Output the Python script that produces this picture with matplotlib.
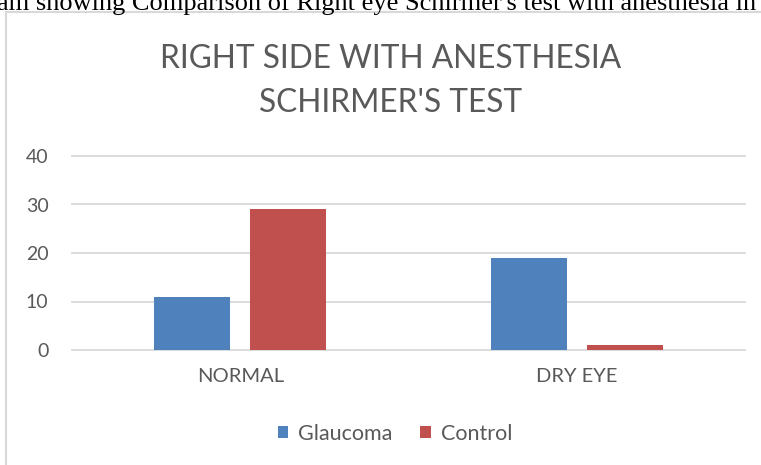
import matplotlib.pyplot as plt
import numpy as np
from matplotlib.patches import Rectangle

categories = ['NORMAL', 'DRY EYE']
glaucoma = [11, 19]
control = [29, 1]
yticks = [0, 10, 20, 30, 40]

blue = '#4F81BD'
red = '#C0504D'
grey = '#595959'
W, H = 761, 465

plt.rcParams['font.family'] = ['Lato', 'DejaVu Sans']

fig = plt.figure(figsize=(W / 100, H / 100), dpi=100)

# cut-off caption from the page above the chart
fig.text(-3 / W, 1 - 10 / H, "am showing Comparison of Right eye Schirmer's test with anesthesia in",
         family=['Liberation Serif'], fontsize=19, color='black', ha='left', va='baseline')

# chart frame (runs off the right/bottom edge)
fig.patches.append(Rectangle((6 / W, -0.1), 1.0, 1 - 12 / H + 0.1, transform=fig.transFigure,
                             fill=False, edgecolor='#D9D9D9', linewidth=1.5))

ax = fig.add_axes([72 / W, 1 - 350 / H, (745 - 72) / W, (350 - 156) / H])
x = np.arange(len(categories))
w = 0.225
ax.bar(x - 0.1425, glaucoma, w, color=blue, label='Glaucoma', zorder=3)
ax.bar(x + 0.1425, control, w, color=red, label='Control', zorder=3)

ax.set_xlim(-0.5, 1.5)
ax.set_ylim(0, 40)
ax.set_yticks(yticks)
ax.set_xticks(x)
ax.set_xticklabels(categories)
for s in ax.spines.values():
    s.set_visible(False)
ax.yaxis.grid(True, color='#D9D9D9', linewidth=1.3, zorder=0)
for gl in ax.get_ygridlines():
    gl.set_clip_on(False)
ax.tick_params(axis='y', length=0, pad=17, labelsize=14, labelcolor=grey)
ax.tick_params(axis='x', length=0, pad=13, labelsize=14.5, labelcolor=grey)

fig.text(391 / W, 1 - 81 / H, "RIGHT SIDE WITH ANESTHESIA\nSCHIRMER'S TEST", ha='center', va='center',
         fontsize=22.8, color=grey, linespacing=1.62)

ax.legend(loc='center', bbox_to_anchor=(395 / W, 1 - 434 / H), bbox_transform=fig.transFigure,
          ncol=2, frameon=False, fontsize=15.5, labelcolor=grey, handlelength=0.5, handleheight=0.5,
          handletextpad=0.45, columnspacing=1.3)

fig.savefig('out.png', dpi=100)
